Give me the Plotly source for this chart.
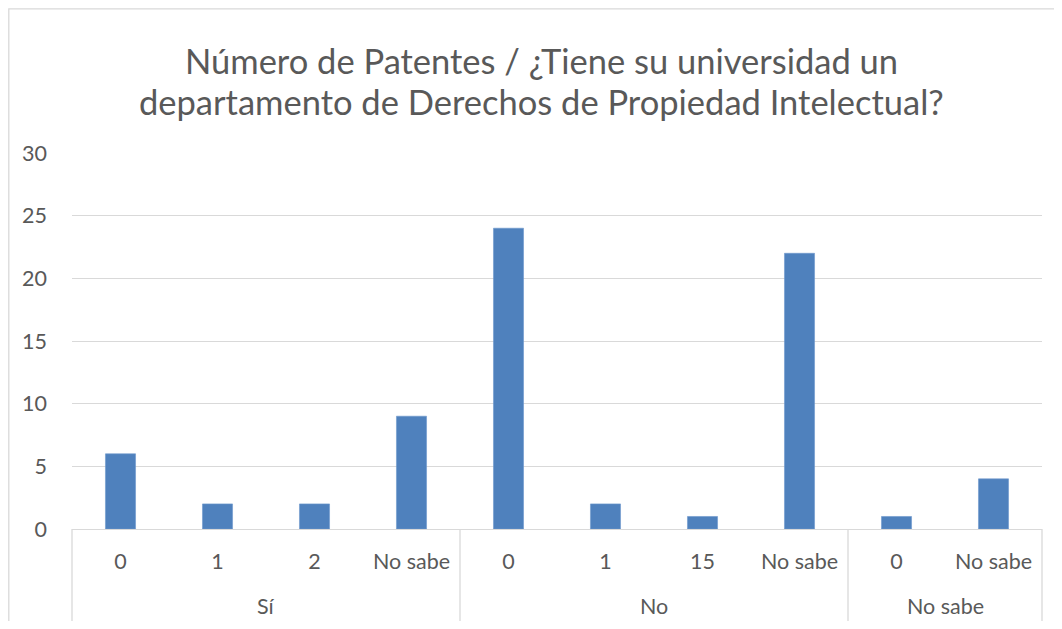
import plotly.graph_objects as go

groups = ["Sí", "No", "No sabe"]
group_sizes = [4, 4, 2]
categories = ["0", "1", "2", "No sabe", "0", "1", "15", "No sabe", "0", "No sabe"]
values = [6, 2, 2, 9, 24, 2, 1, 22, 1, 4]
y_ticks = [0, 5, 10, 15, 20, 25, 30]
title_lines = ["Número de Patentes / ¿Tiene su universidad un",
               "departamento de Derechos de Propiedad Intelectual?"]

# page is offset by the 8px body margin; keep the page from overflowing
OFF = 8
W, H = 1062 - 2 * OFF, 629 - 2 * OFF
ML, MT = 72 - OFF, 153 - OFF
MR = W - ML - 970
MB = H - MT - 376
pw, ph = W - ML - MR, H - MT - MB

def px_x(p):  # page pixel -> paper
    return (p - OFF - ML) / pw

def px_y(p):
    return (H - MB - (p - OFF)) / ph

FONT = "Lato"
GREY = "#595959"
LINE = "#d9d9d9"
TS = 21.5

xs = list(range(len(categories)))

fig = go.Figure(go.Bar(
    x=xs, y=values,
    marker=dict(color="#4f81bd", line=dict(color="#6d97cc", width=0.6)),
))

fig.update_layout(
    width=W, height=H,
    margin=dict(l=ML, r=MR, t=MT, b=MB, autoexpand=False),
    paper_bgcolor="white", plot_bgcolor="white",
    bargap=0.69,
    showlegend=False,
    font=dict(family=FONT, color=GREY, size=TS),
    xaxis=dict(
        range=[-0.5, len(categories) - 0.5], tickvals=xs, ticktext=categories,
        showgrid=False, showline=True, linecolor=LINE, linewidth=1.3,
        ticks="", zeroline=False, ticklabelstandoff=13, automargin=False,
        tickfont=dict(family=FONT, size=TS, color=GREY),
    ),
    yaxis=dict(
        range=[0, 30], tickvals=y_ticks, showgrid=True, gridcolor=LINE, gridwidth=1.2,
        zeroline=False, showline=False, ticks="", ticklabelstandoff=24, automargin=False,
        tickfont=dict(family=FONT, size=TS, color=GREY),
    ),
)

# title lines
for i, t in enumerate(title_lines):
    fig.add_annotation(text=t, xref="paper", yref="paper",
                       x=px_x(541), y=px_y(61 + 41 * i), xanchor="center", yanchor="middle",
                       showarrow=False, font=dict(family=FONT, size=34.5, color=GREY))

# group dividers and labels
start = 0
bounds = [0]
for g, n in zip(groups, group_sizes):
    center = start + (n - 1) / 2
    fig.add_annotation(text=g, xref="x", yref="paper", x=center, y=px_y(606),
                       xanchor="center", yanchor="middle", showarrow=False,
                       font=dict(family=FONT, size=TS, color=GREY))
    start += n
    bounds.append(start)
for b in bounds:
    xp = b / len(categories)
    fig.add_shape(type="line", xref="paper", yref="paper", x0=xp, x1=xp,
                  y0=0, y1=px_y(623), line=dict(color=LINE, width=1.3))

# chart border (left and top edges visible in the frame)
bx0, bx1 = px_x(8.8), px_x(1070)
by0, by1 = px_y(640), px_y(8.8)
fig.add_shape(type="path", xref="paper", yref="paper",
              path=f"M {bx0} {by0} L {bx0} {by1} L {bx1} {by1}",
              line=dict(color=LINE, width=1.3), layer="below")

fig.write_html("out.html")
